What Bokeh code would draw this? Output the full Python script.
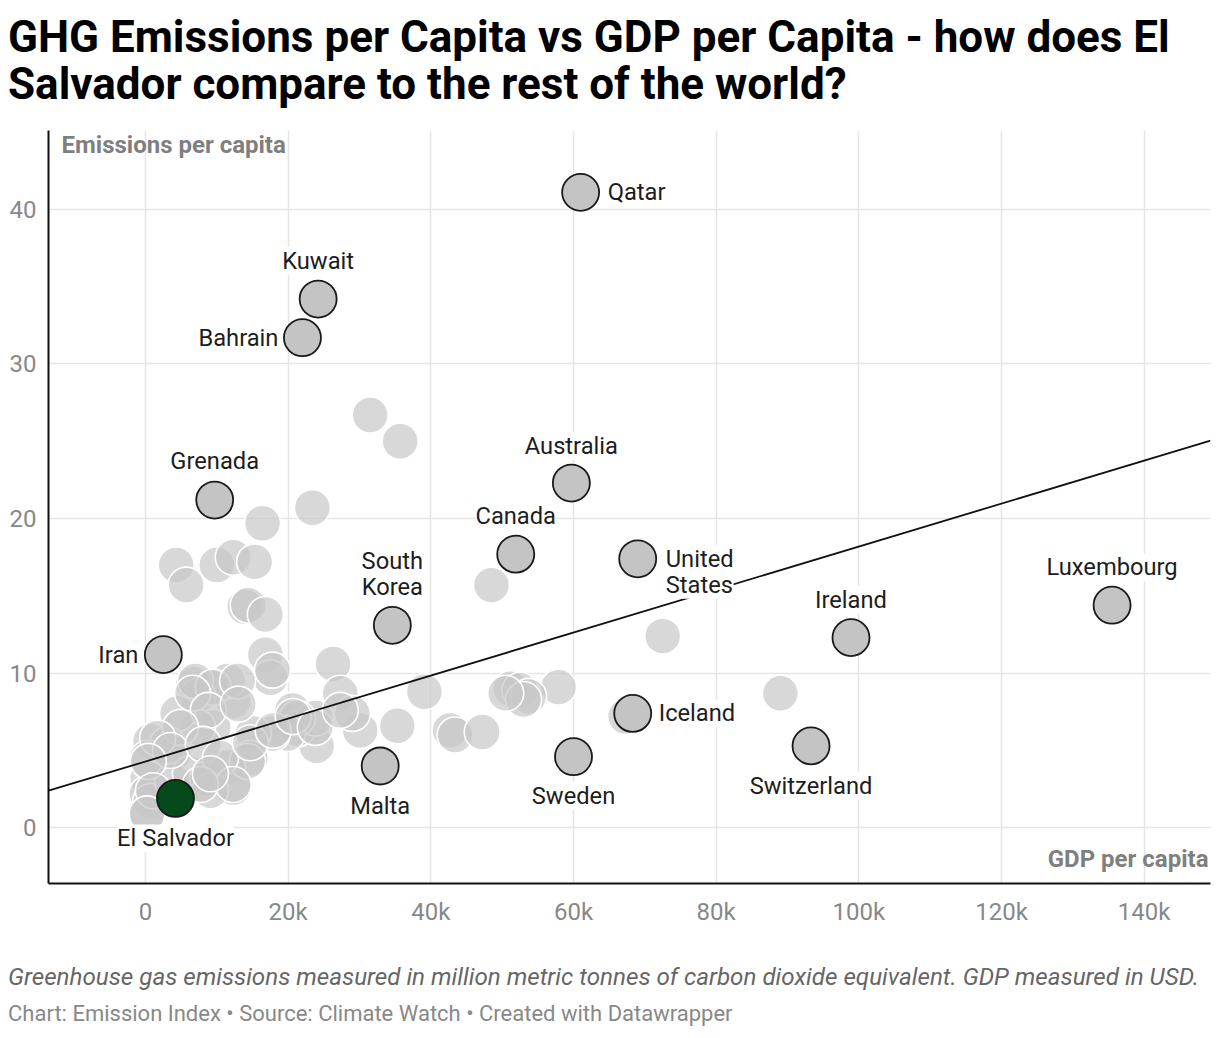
from bokeh.plotting import figure
from bokeh.models import ColumnDataSource, Div, FixedTicker, NumeralTickFormatter, Label
from bokeh.layouts import column
from bokeh.embed import file_html
from bokeh.resources import INLINE
from bokeh.core.properties import value

# ---------------- data ----------------
title_line1 = "GHG Emissions per Capita vs GDP per Capita - how does El"
title_line2 = "Salvador compare to the rest of the world?"
notes = "Greenhouse gas emissions measured in million metric tonnes of carbon dioxide equivalent. GDP measured in USD."
credits = "Chart: Emission Index \u2022 Source: Climate Watch \u2022 Created with Datawrapper"
y_axis_title = "Emissions per capita"
x_axis_title = "GDP per capita"

# other countries (GDP per capita in thousand USD, emissions per capita)
bg_gdp_k = [31.5, 35.7, 23.4, 16.4, 4.3, 5.7, 10.0, 12.3, 15.3, 13.9, 14.4, 16.8,
            16.8, 17.5, 26.3, 27.3, 39.1, 48.5, 72.5, 89.0, 57.9, 51.2, 52.5, 53.7,
            53.0, 50.5, 42.7, 43.4, 47.2, 35.3, 30.1, 29.0, 24.0, 67.3, 20.6, 21.3,
            23.8, 21.3, 19.9, 17.8, 15.1, 14.7, 12.3, 11.5, 9.1, 6.7, 7.3, 9.5,
            7.3, 4.5, 0.7, 3.1, 3.9, 0.3, 0.3, 0.2, 0.7, 0.3, 3.8, 6.3, 8.7, 11.5,
            12.3, 9.1, 14.3, 7.0, 9.5, 12.9, 6.6, 8.8, 13.0, 4.9, 1.7, 3.5, 0.4,
            8.1, 10.5, 14.7, 12.3, 17.9, 20.7, 23.8, 27.3, 1.1, 0.2, 7.7, 9.1, 17.8]
bg_emis = [26.7, 25.0, 20.7, 19.7, 17.0, 15.7, 17.0, 17.5, 17.2, 14.3, 14.4, 13.8,
           11.2, 9.7, 10.6, 8.7, 8.8, 15.7, 12.4, 8.7, 9.1, 9.0, 8.9, 8.5,
           8.3, 8.7, 6.3, 6.0, 6.2, 6.6, 6.3, 7.4, 5.3, 7.2, 7.6, 6.4,
           7.1, 7.1, 6.1, 6.1, 6.1, 4.5, 8.2, 9.5, 9.1, 9.3, 8.5, 6.5,
           6.5, 7.4, 5.6, 5.4, 4.8, 4.5, 3.2, 2.2, 1.7, 0.9, 3.0, 3.5, 3.2, 3.9,
           2.6, 2.4, 4.3, 9.5, 9.1, 9.5, 8.7, 7.6, 8.0, 6.5, 5.8, 5.0, 4.3,
           5.4, 4.5, 5.5, 2.8, 6.3, 7.2, 6.5, 7.6, 2.4, 0.9, 2.8, 3.5, 10.2]

# labelled countries
hl_names = ["Qatar", "Kuwait", "Bahrain", "Grenada", "Australia", "Canada",
            "United States", "South Korea", "Iran", "Luxembourg", "Ireland",
            "Iceland", "Switzerland", "Sweden", "Malta", "El Salvador"]
hl_gdp_k = [61.0, 24.2, 22.0, 9.7, 59.7, 51.9, 69.0, 34.6, 2.5, 135.5, 98.9,
            68.3, 93.3, 60.0, 32.9, 4.2]
hl_emis = [41.1, 34.2, 31.7, 21.2, 22.3, 17.7, 17.4, 13.1, 11.2, 14.4, 12.3,
           7.4, 5.3, 4.6, 4.0, 1.9]
focus_country = "El Salvador"

# regression line: emissions = intercept + slope * GDP(k)
trend_intercept = 4.29
trend_slope_per_k = 0.139

x_ticks = [0, 20000, 40000, 60000, 80000, 100000, 120000, 140000]
y_ticks = [0, 10, 20, 30, 40]

# ---------------- style ----------------
X_START, X_END = -13600, 149300
Y_START, Y_END = -3.6, 45.1
FONT = "Roboto"
label_place = {  # name: (dx px, dy px, align)
    "Qatar": (27, 0, "left"), "Kuwait": (0, -38, "center"), "Bahrain": (-24, 0, "right"),
    "Grenada": (0, -39, "center"), "Australia": (0, -37, "center"),
    "Canada": (0, -38, "center"), "United States": (28, 13, "left"),
    "South Korea": (0, -51, "center"), "Iran": (-25, 0, "right"),
    "Luxembourg": (0, -38, "center"), "Ireland": (0, -38, "center"),
    "Iceland": (26, 0, "left"), "Switzerland": (0, 40, "center"),
    "Sweden": (0, 39, "center"), "Malta": (0, 40, "center"),
    "El Salvador": (0, 40, "center"),
}
multiline = {"United States": "United\nStates", "South Korea": "South\nKorea"}

p = figure(width=1212, height=825, output_backend="svg", toolbar_location=None,
           x_range=(X_START, X_END), y_range=(Y_START, Y_END),
           min_border_left=48, min_border_right=2, min_border_top=22,
           min_border_bottom=50)
p.outline_line_color = None
p.background_fill_color = "white"
p.border_fill_color = "white"

for ax, ticks in ((p.xaxis[0], x_ticks), (p.yaxis[0], y_ticks)):
    ax.ticker = FixedTicker(ticks=ticks)
    ax.major_tick_line_color = None
    ax.minor_tick_line_color = None
    ax.axis_line_color = "#111111"
    ax.axis_line_width = 2
    ax.major_label_text_font = FONT
    ax.major_label_text_font_size = "24px"
    ax.major_label_text_color = "#888888"
p.xaxis[0].formatter = NumeralTickFormatter(format="0a")
p.xaxis[0].major_label_standoff = 8
p.yaxis[0].major_label_standoff = 6

p.xgrid.ticker = FixedTicker(ticks=x_ticks)
p.ygrid.ticker = FixedTicker(ticks=y_ticks)
for g in (p.xgrid[0], p.ygrid[0]):
    g.grid_line_color = "#e5e5e5"
    g.grid_line_width = 1.5

bg = ColumnDataSource(dict(x=[v * 1000 for v in bg_gdp_k], y=bg_emis))
p.scatter("x", "y", source=bg, size=36, fill_color="#c8c8c8", fill_alpha=0.7,
          line_color="white", line_width=1.6)

tx = [X_START, X_END]
ty = [trend_intercept + trend_slope_per_k * v / 1000 for v in tx]
p.line(tx, ty, line_color="#111111", line_width=1.8)

others = [i for i, n in enumerate(hl_names) if n != focus_country]
foc = [i for i, n in enumerate(hl_names) if n == focus_country]
hs = ColumnDataSource(dict(x=[hl_gdp_k[i] * 1000 for i in others], y=[hl_emis[i] for i in others]))
p.scatter("x", "y", source=hs, size=37, fill_color="#c4c4c4", line_color="#1a1a1a", line_width=1.8)
fs = ColumnDataSource(dict(x=[hl_gdp_k[i] * 1000 for i in foc], y=[hl_emis[i] for i in foc]))
p.scatter("x", "y", source=fs, size=37, fill_color="#054a1b", line_color="#1a1a1a", line_width=1.8)

for align in ("left", "center", "right"):
    idx = [i for i, n in enumerate(hl_names) if label_place[n][2] == align]
    src = ColumnDataSource(dict(
        x=[hl_gdp_k[i] * 1000 for i in idx], y=[hl_emis[i] for i in idx],
        t=[multiline.get(hl_names[i], hl_names[i]) for i in idx],
        dx=[label_place[hl_names[i]][0] for i in idx],
        dy=[label_place[hl_names[i]][1] for i in idx]))
    p.text("x", "y", text="t", source=src, x_offset="dx", y_offset="dy",
           text_align=align, text_baseline="middle", text_font=value(FONT),
           text_font_size="23.7px", text_color="#1d1d1d", text_line_height=0.93,
           background_fill_color="white", background_fill_alpha=1.0)

p.add_layout(Label(x=X_START, y=Y_END, x_offset=13, y_offset=0, text=y_axis_title,
                   text_font=FONT, text_font_size="24px", text_font_style="bold",
                   text_color="#7f7f7f", text_baseline="top", text_align="left"))
p.add_layout(Label(x=X_END, y=Y_START, x_offset=-2, y_offset=11, text=x_axis_title,
                   text_font=FONT, text_font_size="24px", text_font_style="bold",
                   text_color="#7f7f7f", text_baseline="bottom", text_align="right"))

title = Div(text=f"{title_line1}<br>{title_line2}", width=1212, height=108,
            margin=(0, 0, 0, 0),
            styles={"font-family": FONT, "font-weight": "700", "font-size": "44px",
                    "line-height": "47px", "color": "#000", "padding-left": "8px",
                    "padding-top": "14px"})
footer = Div(text=f"<div style='font-style:italic;color:#666;font-size:24.2px;line-height:30px'>{notes}</div>"
                  f"<div style='color:#888;font-size:22px;line-height:30px;margin-top:7px'>{credits}</div>",
             width=1212, height=95, margin=(0, 0, 0, 0),
             styles={"font-family": FONT, "padding-left": "8px", "padding-top": "29px"})

layout = column(title, p, footer, spacing=0)
open("out.html", "w").write(file_html(layout, INLINE))
